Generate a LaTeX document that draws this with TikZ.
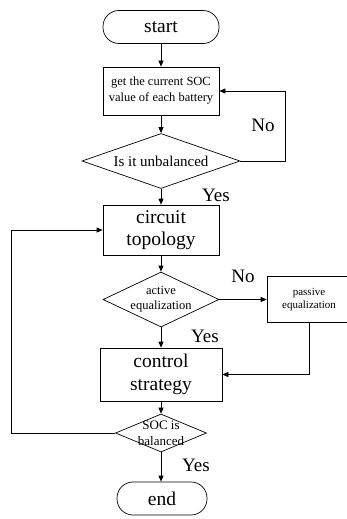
\documentclass[tikz,border=0pt]{standalone}
\usepackage{fontspec}
\setmainfont{Liberation Serif}
\usetikzlibrary{shapes.geometric,arrows.meta}
\begin{document}
\begin{tikzpicture}[x=1pt, y=-1pt, line width=0.7pt,
    box/.style={draw, rectangle, inner sep=0, align=center},
    term/.style={draw, rectangle, rounded corners=16pt, inner sep=0, minimum height=33pt},
    dia/.style={draw, diamond, inner sep=0},
    arr/.style={-{Triangle[length=6pt,width=5pt]}},
    big/.style={font=\fontsize{19.5}{22.5}\selectfont},
    lab/.style={font=\fontsize{19}{21}\selectfont, inner sep=0}]
    \useasboundingbox (0,0) rectangle (347,519);
    % main column
    \node[term, big, minimum width=116pt] (start) at (161,27) {start};
    \node[box, minimum width=116pt, minimum height=48pt, font=\fontsize{12.5}{16}\selectfont] (get) at (161,91) {get the current SOC\\value of each battery};
    \node[dia, minimum width=158pt, minimum height=55pt,
          label={[font=\fontsize{15}{17}\selectfont]center:Is it unbalanced}] (d1) at (161,161) {};
    \node[box, big, minimum width=116pt, minimum height=50pt] (topo) at (161,230) {circuit\\topology};
    \node[dia, minimum width=116pt, minimum height=55pt,
          label={[font=\fontsize{12.5}{15}\selectfont, align=center]center:{active\\equalization}}] (act) at (161,299.5) {};
    \node[box, minimum width=84pt, minimum height=46pt, font=\fontsize{11}{13}\selectfont] (pas) at (309,299.5) {passive\\equalization};
    \node[box, big, minimum width=122pt, minimum height=53pt] (ctrl) at (161,374.5) {control\\strategy};
    \node[dia, minimum width=91pt, minimum height=38pt,
          label={[font=\fontsize{13}{16}\selectfont, align=center]center:{SOC is\\balanced}}] (bal) at (161,433) {};
    \node[term, big, minimum width=90pt] (end) at (162,498.5) {end};
    % answers
    \node[lab] (no1) at (263,125) {No};
    \node[lab] (yes1) at (216,195) {Yes};
    \node[lab] (no2) at (243,276) {No};
    \node[lab] (yes2) at (205,336) {Yes};
    \node[lab] (yes3) at (196,465) {Yes};
    % connectors
    \draw[arr] (start) -- (get);
    \draw[arr] (get) -- (d1);
    \draw[arr] (d1.east) -- ++(45,0) |- (get.east);
    \draw[arr] (d1) -- (topo);
    \draw[arr] (topo) -- (act);
    \draw[arr] (act.east) -- (pas.west);
    \draw[arr] (act) -- (ctrl);
    \draw[arr] (pas.south) |- (ctrl.east);
    \draw[arr] (ctrl) -- (bal);
    \draw[arr] (bal.west) -- ++(-104,0) |- (topo.west);
    \draw[arr] (bal.south) -- (end.north -| bal.south);
\end{tikzpicture}
\end{document}
